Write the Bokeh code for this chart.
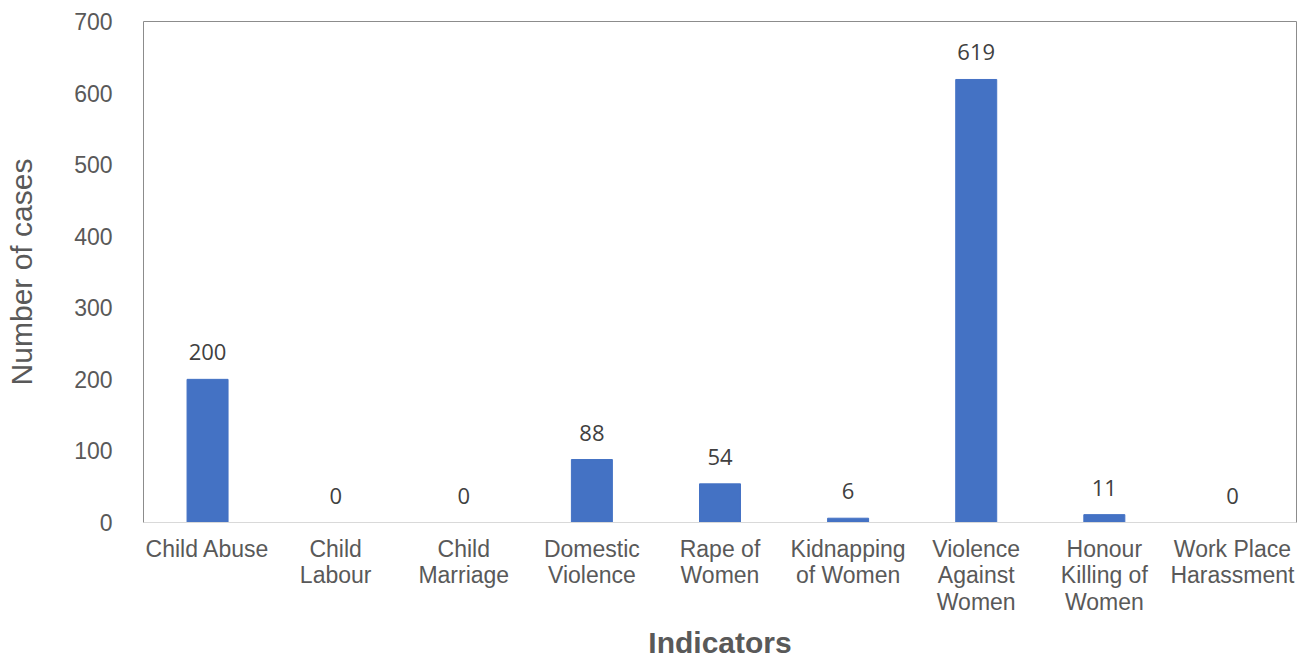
from bokeh.plotting import figure
from bokeh.models import ColumnDataSource, Range1d, FixedTicker
from bokeh.embed import file_html
from bokeh.resources import INLINE
from bokeh.core.properties import value

categories = ["Child Abuse", "Child\nLabour", "Child\nMarriage", "Domestic\nViolence", "Rape of\nWomen",
              "Kidnapping\nof Women", "Violence\nAgainst\nWomen", "Honour\nKilling of\nWomen", "Work Place\nHarassment"]
cases = [200, 0, 0, 88, 54, 6, 619, 11, 0]
y_ticks = [0, 100, 200, 300, 400, 500, 600, 700]

src = ColumnDataSource(dict(cat=categories, val=cases, lab=[str(v) for v in cases]))

p = figure(x_range=categories, width=1306, height=662, output_backend="svg", toolbar_location=None,
           min_border_left=143, min_border_right=10, min_border_top=21, min_border_bottom=139)
p.y_range = Range1d(0, 700)
p.vbar(x="cat", top="val", width=0.32, source=src, color="#4472C4")
p.text(x="cat", y="val", text="lab", source=src, text_align="center", text_baseline="middle",
       y_offset=-27, text_font=value("Open Sans"), text_font_size="22px", text_color="#404040")

p.xgrid.grid_line_color = None
p.ygrid.grid_line_color = None
p.outline_line_color = "#8c8c8c"
p.outline_line_width = 1

p.yaxis.ticker = FixedTicker(ticks=y_ticks)
for ax in (p.xaxis[0], p.yaxis[0]):
    ax.major_tick_line_color = None
    ax.minor_tick_line_color = None
    ax.major_label_text_font = "Liberation Sans"
    ax.major_label_text_font_size = "23px"
    ax.major_label_text_color = "#595959"
p.xaxis.major_label_text_line_height = 1.03
p.yaxis.axis_line_color = None
p.yaxis.major_label_standoff = 25
p.xaxis.axis_line_color = "#d9d9d9"
p.xaxis.major_label_standoff = 7

p.yaxis.axis_label = "Number of cases"
p.yaxis.axis_label_text_font = "Liberation Sans"
p.yaxis.axis_label_text_font_size = "30px"
p.yaxis.axis_label_text_font_style = "normal"
p.yaxis.axis_label_text_color = "#595959"
p.yaxis.axis_label_standoff = 33

p.xaxis.axis_label = "Indicators"
p.xaxis.axis_label_text_font = "Liberation Sans"
p.xaxis.axis_label_text_font_size = "30px"
p.xaxis.axis_label_text_font_style = "bold"
p.xaxis.axis_label_text_color = "#595959"
p.xaxis.axis_label_standoff = 8

open("out.html", "w").write(file_html(p, INLINE))
